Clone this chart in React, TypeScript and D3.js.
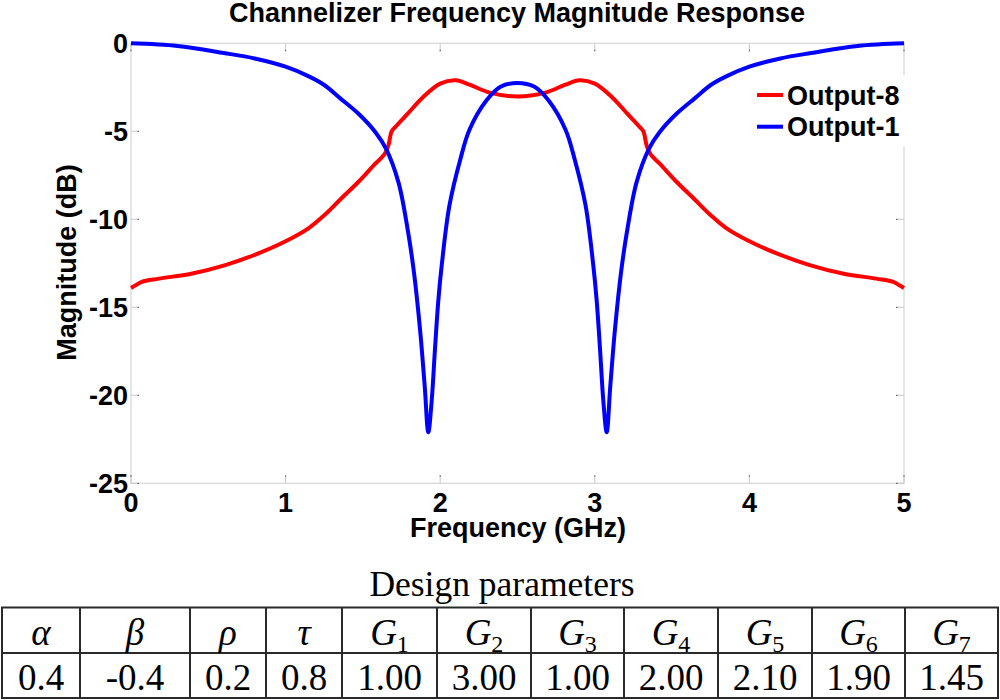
import React from "react";
import * as d3 from "d3";

const title = "Channelizer Frequency Magnitude Response";
const xLabel = "Frequency (GHz)";
const yLabel = "Magnitude (dB)";
const xTicks = [0, 1, 2, 3, 4, 5];
const yTicks = [0, -5, -10, -15, -20, -25];

const freqOut1 = [0.0, 0.3, 0.6, 0.8, 1.0, 1.15, 1.25, 1.35, 1.47, 1.58, 1.65, 1.73, 1.79, 1.83, 1.87, 1.9, 1.923, 1.945, 1.966, 1.988, 2.01, 2.06, 2.13, 2.19, 2.3, 2.39, 2.5, 2.61, 2.7, 2.81, 2.87, 2.94, 2.99, 3.012, 3.034, 3.055, 3.077, 3.1, 3.13, 3.17, 3.21, 3.27, 3.35, 3.42, 3.53, 3.65, 3.75, 3.85, 4.0, 4.2, 4.4, 4.7, 5.0];
const magOut1 = [0.0, -0.15, -0.55, -0.86, -1.33, -1.88, -2.37, -3.1, -3.99, -5.04, -6.0, -7.9, -10.6, -13.0, -16.3, -19.5, -22.1, -20.3, -17.4, -14.6, -12.6, -9.2, -6.6, -4.9, -3.24, -2.47, -2.25, -2.47, -3.24, -4.9, -6.6, -9.2, -12.6, -14.6, -17.4, -20.3, -22.1, -19.5, -16.3, -13.0, -10.6, -7.9, -6.0, -5.04, -3.99, -3.1, -2.37, -1.88, -1.33, -0.86, -0.55, -0.15, 0.0];

const freqOut8 = [0.0, 0.03, 0.07, 0.18, 0.39, 0.61, 0.82, 1.0, 1.15, 1.25, 1.36, 1.47, 1.58, 1.64, 1.665, 1.686, 1.71, 1.79, 1.89, 2.0, 2.1, 2.19, 2.32, 2.5, 2.68, 2.81, 2.9, 3.0, 3.11, 3.21, 3.29, 3.314, 3.335, 3.36, 3.42, 3.53, 3.64, 3.75, 3.85, 4.0, 4.18, 4.39, 4.61, 4.82, 4.93, 4.97, 5.0];
const magOut8 = [-13.9, -13.75, -13.55, -13.37, -13.09, -12.6, -11.95, -11.25, -10.5, -9.77, -8.82, -7.88, -6.84, -6.3, -5.8, -5.0, -4.75, -4.0, -3.05, -2.29, -2.1, -2.35, -2.8, -3.02, -2.8, -2.35, -2.1, -2.29, -3.05, -4.0, -4.75, -5.0, -5.8, -6.3, -6.84, -7.88, -8.82, -9.77, -10.5, -11.25, -11.95, -12.6, -13.09, -13.37, -13.55, -13.75, -13.9];

const seriesNames = ["Output-8", "Output-1"];
const seriesColors = ["#ff0000", "#0000ff"];

const tableTitle = "Design parameters";
const paramSymbols = ["α", "β", "ρ", "τ", "G", "G", "G", "G", "G", "G", "G"];
const paramSubs = ["", "", "", "", "1", "2", "3", "4", "5", "6", "7"];
const paramValues = ["0.4", "-0.4", "0.2", "0.8", "1.00", "3.00", "1.00", "2.00", "2.10", "1.90", "1.45"];
const colEdges = [2, 80, 190, 266, 342, 437, 531, 624, 718, 812, 905, 998];

const SANS = "'Liberation Sans', Arial, sans-serif";
const SERIF = "'Liberation Serif', 'Times New Roman', serif";

export default function App() {
  const left = 131, right = 904, top = 43.3, bottom = 483.3;
  const x = d3.scaleLinear().domain([0, 5]).range([left, right]);
  const y = d3.scaleLinear().domain([-25, 0]).range([bottom, top]);
  const line = d3
    .line<[number, number]>()
    .x((d) => x(d[0]))
    .y((d) => y(d[1]))
    .curve(d3.curveCatmullRom.alpha(0.5));

  const d1 = line(freqOut1.map((f, i) => [f, magOut1[i]] as [number, number])) || "";
  const d8 = line(freqOut8.map((f, i) => [f, magOut8[i]] as [number, number])) || "";

  const axisGray = "#d6d6d6";
  const tickLen = 8;
  const fs = 27;

  const rowTop = 607.5, rowMid = 653, rowBot = 698;

  return (
    <svg
      width={1000}
      height={700}
      style={{ position: "absolute", left: 0, top: 0, background: "#fff" }}
    >
      <rect x={0} y={0} width={1000} height={700} fill="#fff" />
      {/* title */}
      <text x={517} y={22} textAnchor="middle" fontFamily={SANS} fontWeight="bold" fontSize={fs}>
        {title}
      </text>

      {/* axes box */}
      <rect x={left} y={top} width={right - left} height={bottom - top} fill="none" stroke={axisGray} strokeWidth={1.2} />

      {/* x ticks */}
      {xTicks.map((t) => (
        <g key={"xt" + t}>
          <line x1={x(t)} x2={x(t)} y1={bottom} y2={bottom - tickLen} stroke="#c8c8c8" strokeWidth={1} />
          <line x1={x(t)} x2={x(t)} y1={bottom - tickLen} y2={bottom - tickLen + 1.5} stroke="#555" strokeWidth={1} />
          <line x1={x(t)} x2={x(t)} y1={top} y2={top + tickLen} stroke="#c8c8c8" strokeWidth={1} />
          <line x1={x(t)} x2={x(t)} y1={top + tickLen - 1.5} y2={top + tickLen} stroke="#555" strokeWidth={1} />
          <text x={x(t)} y={512} textAnchor="middle" fontFamily={SANS} fontWeight="bold" fontSize={fs}>
            {t}
          </text>
        </g>
      ))}
      {/* y ticks */}
      {yTicks.map((t) => (
        <g key={"yt" + t}>
          <line x1={left} x2={left + tickLen} y1={y(t)} y2={y(t)} stroke="#c8c8c8" strokeWidth={1} />
          <line x1={left + tickLen - 1.5} x2={left + tickLen} y1={y(t)} y2={y(t)} stroke="#555" strokeWidth={1} />
          <line x1={right} x2={right - tickLen} y1={y(t)} y2={y(t)} stroke="#c8c8c8" strokeWidth={1} />
          <line x1={right - tickLen} x2={right - tickLen + 1.5} y1={y(t)} y2={y(t)} stroke="#555" strokeWidth={1} />
          <text x={128} y={y(t) + 9.5} textAnchor="end" fontFamily={SANS} fontWeight="bold" fontSize={fs}>
            {t}
          </text>
        </g>
      ))}

      {/* axis labels */}
      <text x={518} y={537} textAnchor="middle" fontFamily={SANS} fontWeight="bold" fontSize={fs}>
        {xLabel}
      </text>
      <text
        transform={`translate(76, 262.5) rotate(-90)`}
        textAnchor="middle"
        fontFamily={SANS}
        fontWeight="bold"
        fontSize={fs}
      >
        {yLabel}
      </text>

      {/* curves */}
      <path d={d8} fill="none" stroke={seriesColors[0]} strokeWidth={4} strokeLinejoin="round" />
      <path d={d1} fill="none" stroke={seriesColors[1]} strokeWidth={4} strokeLinejoin="round" />

      {/* legend */}
      <rect x={750} y={75} width={162} height={72} fill="#fff" />
      {seriesNames.map((name, i) => {
        const ly = 95 + i * 31.7;
        return (
          <g key={name}>
            <line x1={757} x2={783} y1={ly} y2={ly} stroke={seriesColors[i]} strokeWidth={4} />
            <text x={787} y={ly + 9.5} fontFamily={SANS} fontWeight="bold" fontSize={fs}>
              {name}
            </text>
          </g>
        );
      })}

      {/* table */}
      <text x={502} y={596} textAnchor="middle" fontFamily={SERIF} fontSize={35.5}>
        {tableTitle}
      </text>
      <g stroke="#2a2a2a" strokeWidth={2} fill="none">
        <rect x={colEdges[0]} y={rowTop} width={colEdges[colEdges.length - 1] - colEdges[0]} height={rowBot - rowTop} />
        <line x1={colEdges[0]} x2={colEdges[colEdges.length - 1]} y1={rowMid} y2={rowMid} />
        {colEdges.slice(1, -1).map((cx) => (
          <line key={"c" + cx} x1={cx} x2={cx} y1={rowTop} y2={rowBot} />
        ))}
      </g>
      {paramSymbols.map((s, i) => {
        const cx = (colEdges[i] + colEdges[i + 1]) / 2;
        return (
          <g key={"p" + i}>
            <text x={cx} y={645} textAnchor="middle" fontFamily={SERIF} fontSize={37}>
              <tspan fontStyle="italic">{s}</tspan>
              {paramSubs[i] ? (
                <tspan fontSize={24} dy={7}>
                  {paramSubs[i]}
                </tspan>
              ) : null}
            </text>
            <text x={cx} y={690} textAnchor="middle" fontFamily={SERIF} fontSize={37}>
              {paramValues[i]}
            </text>
          </g>
        );
      })}
    </svg>
  );
}
